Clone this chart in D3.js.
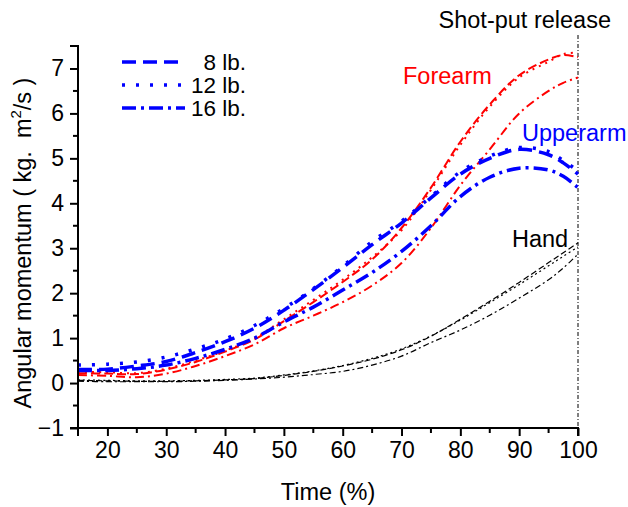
<!DOCTYPE html>
<html>
<head>
<meta charset="utf-8">
<script src="https://cdn.jsdelivr.net/npm/d3@7"></script>
<style>
  html, body { margin: 0; padding: 0; background: #fff; }
  svg { display: block; font-family: Arial, "Liberation Sans", sans-serif; }
</style>
</head>
<body>
<svg id="chart" width="628" height="507"></svg>
<script>
// ---- data ----
const timePct = [15, 20, 25, 30, 35, 40, 45, 50, 55, 60, 65, 70, 75, 80, 85, 90, 95, 97.5, 100];

const forearm8  = [0.22, 0.21, 0.20, 0.30, 0.47, 0.70, 0.97, 1.38, 1.80, 2.25, 2.75, 3.45, 4.35, 5.37, 6.20, 6.85, 7.20, 7.30, 7.25];
const forearm12 = [0.25, 0.24, 0.22, 0.32, 0.50, 0.72, 1.00, 1.42, 1.85, 2.30, 2.80, 3.40, 4.30, 5.30, 6.15, 6.80, 7.15, 7.32, 7.35];
const forearm16 = [0.18, 0.16, 0.13, 0.21, 0.38, 0.60, 0.86, 1.22, 1.50, 1.80, 2.17, 2.67, 3.45, 4.40, 5.20, 6.00, 6.50, 6.68, 6.80];

const upperarm8  = [0.30, 0.31, 0.38, 0.48, 0.68, 0.92, 1.22, 1.62, 2.08, 2.57, 3.08, 3.56, 4.12, 4.65, 5.00, 5.20, 5.08, 4.90, 4.65];
const upperarm12 = [0.40, 0.42, 0.47, 0.58, 0.76, 0.98, 1.28, 1.66, 2.10, 2.60, 3.15, 3.60, 4.15, 4.70, 5.05, 5.24, 5.15, 4.95, 4.72];
const upperarm16 = [0.28, 0.28, 0.32, 0.40, 0.55, 0.75, 1.00, 1.36, 1.69, 2.07, 2.46, 2.93, 3.50, 4.15, 4.58, 4.78, 4.74, 4.60, 4.35];

const hand8  = [0.06, 0.05, 0.04, 0.04, 0.05, 0.07, 0.10, 0.17, 0.26, 0.38, 0.53, 0.74, 1.04, 1.42, 1.82, 2.24, 2.68, 2.90, 3.12];
const hand12 = [0.07, 0.06, 0.05, 0.05, 0.06, 0.08, 0.11, 0.18, 0.27, 0.39, 0.55, 0.76, 1.05, 1.40, 1.79, 2.19, 2.61, 2.82, 3.03];
const hand16 = [0.04, 0.03, 0.03, 0.03, 0.04, 0.06, 0.09, 0.13, 0.19, 0.26, 0.40, 0.60, 0.90, 1.18, 1.51, 1.89, 2.30, 2.56, 2.87];

const weights = ["8 lb.", "12 lb.", "16 lb."];
const xTicks = [20, 30, 40, 50, 60, 70, 80, 90, 100];
const yTicks = [-1, 0, 1, 2, 3, 4, 5, 6, 7];
const releaseTime = 100;

// ---- layout ----
const svg = d3.select("#chart");
const x = d3.scaleLinear().domain([15, 100]).range([78, 578]);
const y = d3.scaleLinear().domain([-1, 7.5]).range([428, 46]);

const dashByWeight = {
  "8 lb.": { blue: "14,7", red: "9,4", black: "6,3" },
  "12 lb.": { blue: "3,11", red: "2,5", black: "2,3" },
  "16 lb.": { blue: "14,5,3,5", red: "9,4,2,4", black: "6,3,2,3" }
};

const groups = [
  { color: "#ff0000", key: "red",   width: 2,   series: [forearm8, forearm12, forearm16] },
  { color: "#0000ff", key: "blue",  width: 3.5, series: [upperarm8, upperarm12, upperarm16] },
  { color: "#000000", key: "black", width: 1.2, series: [hand8, hand12, hand16] }
];

const line = d3.line()
  .x((d, i) => x(timePct[i]))
  .y(d => y(d))
  .curve(d3.curveCatmullRom.alpha(0.5));

// release line
svg.append("line")
  .attr("x1", x(releaseTime)).attr("x2", x(releaseTime))
  .attr("y1", 35).attr("y2", y(-1))
  .attr("stroke", "#000").attr("stroke-width", 1)
  .attr("stroke-dasharray", "4,2,1,2");

svg.append("text")
  .attr("x", 611).attr("y", 28)
  .attr("text-anchor", "end")
  .attr("font-size", 23.5)
  .text("Shot-put release");

// curves
groups.forEach(g => {
  g.series.forEach((s, i) => {
    svg.append("path")
      .attr("d", line(s))
      .attr("fill", "none")
      .attr("stroke", g.color)
      .attr("stroke-width", g.width)
      .attr("stroke-dasharray", dashByWeight[weights[i]][g.key]);
  });
});

// axes
const xAxis = d3.axisBottom(x).tickValues(xTicks).tickSize(8).tickPadding(6).tickFormat(d3.format("d"));
const yAxis = d3.axisLeft(y).tickValues(yTicks).tickSize(8).tickPadding(6).tickFormat(d3.format("d"));

const gx = svg.append("g").attr("transform", `translate(0,${y(-1)})`).call(xAxis);
const gy = svg.append("g").attr("transform", `translate(${x(15)},0)`).call(yAxis);

// minor ticks
const xMinor = d3.range(15, 100, 10);
gx.selectAll(".minor").data(xMinor).enter().append("line")
  .attr("x1", d => x(d)).attr("x2", d => x(d))
  .attr("y1", 0).attr("y2", 5)
  .attr("stroke", "#000").attr("stroke-width", 2);
const yMinor = d3.range(-0.5, 7.6, 1);
gy.selectAll(".minor").data(yMinor).enter().append("line")
  .attr("y1", d => y(d)).attr("y2", d => y(d))
  .attr("x1", 0).attr("x2", -5)
  .attr("stroke", "#000").attr("stroke-width", 2);

[gx, gy].forEach(g => {
  g.select(".domain").attr("stroke", "#000").attr("stroke-width", 2);
  g.selectAll(".tick line").attr("stroke", "#000").attr("stroke-width", 2);
  g.selectAll(".tick text").attr("font-size", 23).attr("fill", "#000")
    .attr("font-family", "Arial, 'Liberation Sans', sans-serif");
});
gy.select(".domain").attr("d", `M-8,${y(7.5)}H0V${y(-1)}H-8`);
gx.select(".domain").attr("d", `M${x(15)},8V0H${x(100)}V8`);

// axis titles
svg.append("text")
  .attr("x", x(57.5)).attr("y", 500)
  .attr("text-anchor", "middle").attr("font-size", 23.5)
  .text("Time (%)");

const yt = svg.append("text")
  .attr("transform", `translate(31,${(y(7.5) + y(-1)) / 2 + 6}) rotate(-90)`)
  .attr("text-anchor", "middle").attr("font-size", 23.5);
yt.append("tspan").text("Angular momentum ( kg.\u00a0\u00a0m");
yt.append("tspan").attr("font-size", 15).attr("dy", -10).text("2");
yt.append("tspan").attr("dy", 10).text("/s )");

// curve labels
svg.append("text").attr("x", 403).attr("y", 84).attr("font-size", 23.5).attr("fill", "#ff0000").text("Forearm");
svg.append("text").attr("x", 522).attr("y", 141).attr("font-size", 23.5).attr("fill", "#0000ff").text("Upperarm");
svg.append("text").attr("x", 512).attr("y", 247).attr("font-size", 23.5).attr("fill", "#000").text("Hand");

// legend
const legend = svg.append("g");
weights.forEach((w, i) => {
  const yy = 62 + i * 23;
  legend.append("line")
    .attr("x1", 122).attr("x2", 185).attr("y1", yy).attr("y2", yy)
    .attr("stroke", "#0000ff").attr("stroke-width", 3.5)
    .attr("stroke-dasharray", dashByWeight[w].blue);
  legend.append("text")
    .attr("x", 246).attr("y", yy + 8)
    .attr("text-anchor", "end").attr("font-size", 22.5)
    .text(w);
});
</script>
</body>
</html>
